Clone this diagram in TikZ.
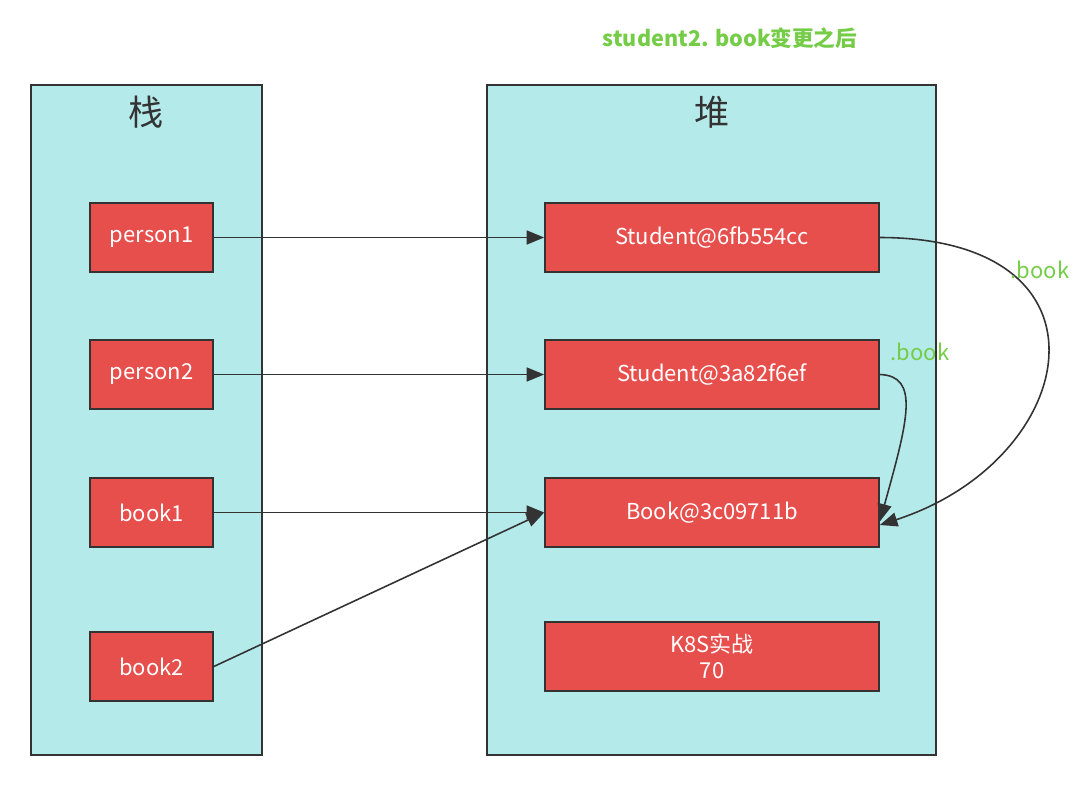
\documentclass[tikz,border=0pt]{standalone}
\usepackage{fontspec}
\setmainfont{Noto Sans CJK SC}
\usetikzlibrary{arrows.meta}
\definecolor{panelcyan}{HTML}{B5EAEA}
\definecolor{boxred}{HTML}{E74F4D}
\definecolor{linegray}{HTML}{333333}
\definecolor{labelgreen}{HTML}{74CC47}
\tikzset{
  panel/.style={draw=linegray, fill=panelcyan, line width=1pt},
  varbox/.style={draw=linegray, fill=boxred, line width=1pt, text=white,
    minimum width=2.46cm, minimum height=1.38cm, inner sep=0pt,
    font=\fontsize{12.5}{14}\selectfont},
  objbox/.style={varbox, minimum width=6.68cm, align=center},
  ref/.style={draw=linegray, line width=0.9pt, -{Triangle[length=10pt,width=8pt]}},
  fieldlabel/.style={text=labelgreen, font=\fontsize{12.5}{14}\selectfont, inner sep=0pt}
}
\begin{document}
\begin{tikzpicture}[x=0.02cm, y=-0.02cm]
    \useasboundingbox (0,0) rectangle (1080,787);
    \node [text=labelgreen, font=\bfseries\fontsize{12.3}{14}\selectfont] (title) at (730,38) {student2. book变更之后};
    % stack and heap
    \draw [panel] (31,85) rectangle (262,755);
    \draw [panel] (487,85) rectangle (936,755);
    \node [font=\fontsize{20}{24}\selectfont, text=linegray] (stack) at (146,112) {栈};
    \node [font=\fontsize{20}{24}\selectfont, text=linegray] (heap) at (712,112) {堆};
    % variables
    \node [varbox] (p1) at (151.5,237.5) {person1};
    \node [varbox] (p2) at (151.5,374.5) {person2};
    \node [varbox] (b1) at (151.5,512.5) {book1};
    \node [varbox] (b2) at (151.5,666.5) {book2};
    % objects
    \node [objbox] (s1) at (712,237.5) {Student@6fb554cc};
    \node [objbox] (s2) at (712,374.5) {Student@3a82f6ef};
    \node [objbox] (bk) at (712,512.5) {Book@3c09711b};
    \node [objbox] (k8s) at (712,656.5) {K8S实战\\[1pt]70};
    % references
    \draw [ref] (p1) -- (s1);
    \draw [ref] (p2) -- (s2);
    \draw [ref] (b1) -- (bk);
    \draw [ref] (b2.east) -- (bk.west);
    \draw [ref] (s1.east) .. controls (1125,238) and (1080,460) .. ([yshift=-0.25cm]bk.east);
    \draw [ref] (s2.east) .. controls (920,376) and (908,420) .. ([yshift=-0.18cm]bk.east);
    \node [fieldlabel] (f1) at (1040,270) {.book};
    \node [fieldlabel] (f2) at (920,352) {.book};
\end{tikzpicture}
\end{document}
